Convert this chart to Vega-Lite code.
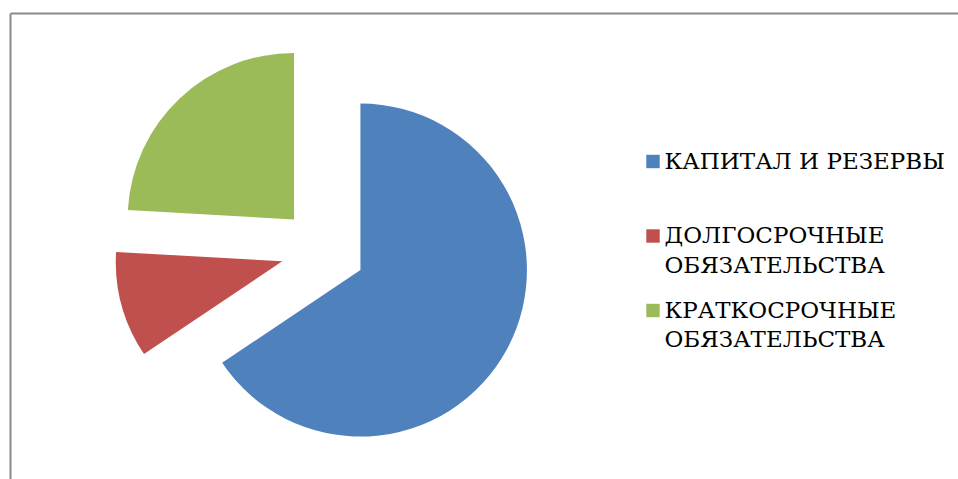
{
  "$schema": "https://vega.github.io/schema/vega-lite/v6.json",
  "width": 948,
  "height": 467,
  "autosize": "none",
  "padding": {"left": 10, "top": 13, "right": 0, "bottom": 0},
  "background": "white",
  "config": {
    "view": {"stroke": null},
    "style": {"guide-label": {"lineHeight": 29.5}}
  },
  "data": {
    "values": [
      {"name": "КАПИТАЛ И РЕЗЕРВЫ", "value": 65.6},
      {"name": "ДОЛГОСРОЧНЫЕ ОБЯЗАТЕЛЬСТВА", "value": 10.3},
      {"name": "КРАТКОСРОЧНЫЕ ОБЯЗАТЕЛЬСТВА", "value": 24.1}
    ]
  },
  "transform": [
    {"window": [{"op": "sum", "field": "value", "as": "cum"}], "frame": [null, 0]},
    {"joinaggregate": [{"op": "sum", "field": "value", "as": "total"}]},
    {"calculate": "(datum.cum - datum.value) / datum.total", "as": "f0"},
    {"calculate": "datum.cum / datum.total", "as": "f1"},
    {"calculate": "sin(PI * (datum.f0 + datum.f1))", "as": "ex"},
    {"calculate": "cos(PI * (datum.f0 + datum.f1))", "as": "ey"}
  ],
  "mark": {"type": "arc", "radius": 166.5},
  "encoding": {
    "theta": {"field": "f0", "type": "quantitative", "stack": false, "scale": {"domain": [0, 1], "range": [0, 6.283185307179586]}},
    "theta2": {"field": "f1"},
    "x": {
      "field": "ex", "type": "quantitative", "stack": false,
      "scale": {"domain": [-7.402, 15.009], "nice": false, "zero": false},
      "axis": {"orient": "top", "labels": false, "ticks": false, "grid": false, "title": null, "domain": true, "domainColor": "#8a8a8a", "domainWidth": 2}
    },
    "y": {
      "field": "ey", "type": "quantitative", "stack": false,
      "scale": {"domain": [-5.433, 5.607], "nice": false, "zero": false},
      "axis": {"orient": "left", "labels": false, "ticks": false, "grid": false, "title": null, "domain": true, "domainColor": "#8a8a8a", "domainWidth": 2}
    },
    "color": {
      "field": "name", "type": "nominal",
      "scale": {
        "domain": ["КАПИТАЛ И РЕЗЕРВЫ", "ДОЛГОСРОЧНЫЕ ОБЯЗАТЕЛЬСТВА", "КРАТКОСРОЧНЫЕ ОБЯЗАТЕЛЬСТВА"],
        "range": ["#4F81BD", "#C0504D", "#9BBB59"]
      },
      "legend": {
        "orient": "none", "legendX": 631.5, "legendY": 137, "title": null,
        "padding": 0, "gridAlign": "all",
        "labelFont": "DejaVu Serif", "labelFontSize": 23, "labelColor": "#000000",
        "symbolType": "square", "symbolSize": 180, "symbolStrokeWidth": 0, "symbolOpacity": 1,
        "labelOffset": 0, "labelLimit": 400, "rowPadding": 21.5,
        "labelExpr": "indexof(datum.label, ' ОБЯЗАТЕЛЬСТВА') > 0 ? split(datum.label, ' ') : datum.label"
      }
    }
  }
}
